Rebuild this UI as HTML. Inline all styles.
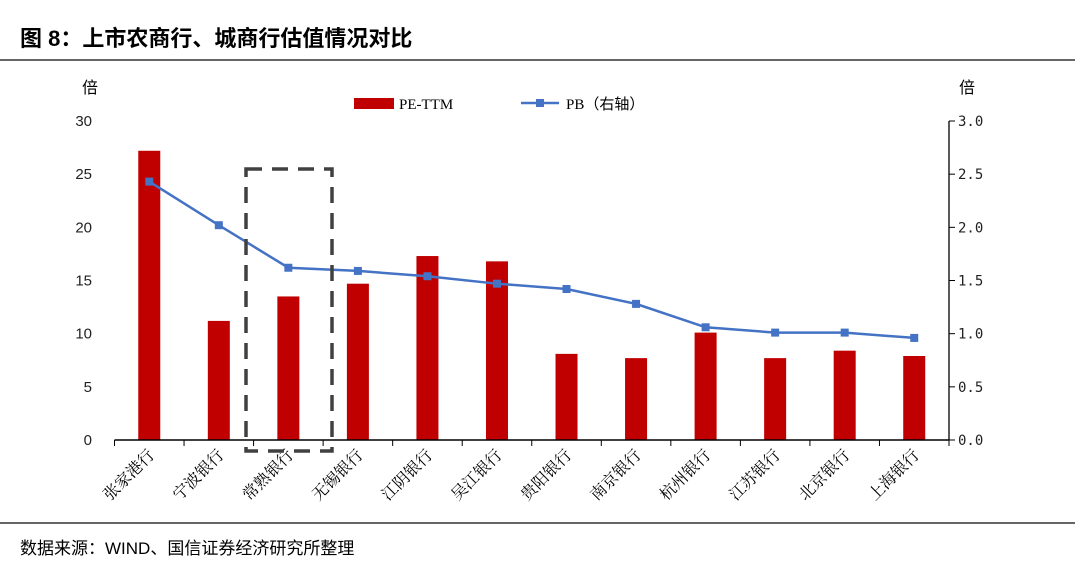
<!DOCTYPE html>
<html><head><meta charset="utf-8"><style>
body{margin:0;background:#fff;}
svg{display:block;font-family:"Liberation Serif","Noto Serif CJK SC",serif;}
</style></head><body>
<svg id="c" width="1075" height="573">
<text x="20" y="46" font-size="22" font-weight="bold" font-family="Liberation Sans,Noto Sans CJK SC,sans-serif">图 8：上市农商行、城商行估值情况对比</text>
<line x1="0" y1="60" x2="1075" y2="60" stroke="#333" stroke-width="1.5"/>
<line x1="0" y1="523" x2="1075" y2="523" stroke="#333" stroke-width="1.5"/>
<text x="20" y="554" font-size="17" font-family="Liberation Sans,Noto Sans CJK SC,sans-serif">数据来源：WIND、国信证券经济研究所整理</text>
<text x="82" y="93" font-size="16" font-family="Liberation Sans,Noto Sans CJK SC,sans-serif">倍</text>
<text x="959" y="93" font-size="16" font-family="Liberation Sans,Noto Sans CJK SC,sans-serif">倍</text>
<rect x="354" y="98" width="40" height="11" fill="#c00000"/>
<text x="399" y="109" font-size="15">PE-TTM</text>
<line x1="521" y1="103" x2="559" y2="103" stroke="#4472c4" stroke-width="2.5"/>
<rect x="536" y="99" width="8" height="8" fill="#4472c4"/>
<text x="566" y="109" font-size="15" font-family="Liberation Serif,Noto Sans CJK SC,serif">PB（右轴）</text>
<g id="g"></g>
<rect x="246" y="169" width="86" height="282" fill="none" stroke="#404040" stroke-width="3.5" stroke-dasharray="16,10"/>
</svg>
<script>
const categories=["张家港行","宁波银行","常熟银行","无锡银行","江阴银行","吴江银行","贵阳银行","南京银行","杭州银行","江苏银行","北京银行","上海银行"];
const peValues=[27.2,11.2,13.5,14.7,17.3,16.8,8.1,7.7,10.1,7.7,8.4,7.9];
const pbValues=[2.43,2.02,1.62,1.59,1.54,1.47,1.42,1.28,1.06,1.01,1.01,0.96];
const leftTicks=[0,5,10,15,20,25,30];
const rightTicks=["0.0","0.5","1.0","1.5","2.0","2.5","3.0"];
const NS="http://www.w3.org/2000/svg",g=document.getElementById('g');
const x0=114.5,x1=949,y0=440,yTop=121;
const step=(x1-x0)/categories.length;
const xc=i=>x0+step*(i+0.5);
const yL=v=>y0-(v/30)*(y0-yTop);
const yR=v=>y0-(v/3)*(y0-yTop);
function el(t,a,txt){const e=document.createElementNS(NS,t);for(const k in a)e.setAttribute(k,a[k]);if(txt!==undefined)e.textContent=txt;g.appendChild(e);return e;}
leftTicks.forEach(v=>{const e=el('text',{x:92,y:yL(v)+5,'text-anchor':'end','font-size':15,'font-family':'Liberation Sans,sans-serif',fill:'#222'},v);
});
rightTicks.forEach(v=>{const e=el('text',{x:958,y:yR(+v)+5,'font-size':14,'font-family':'DejaVu Sans Mono,monospace',fill:'#222'},v);

const t=el('line',{x1:949,x2:955,y1:yR(+v),y2:yR(+v),stroke:'#000'});});
const ra=el('line',{x1:949,x2:949,y1:yTop,y2:y0,stroke:'#000','stroke-width':1.3});

peValues.forEach((v,i)=>{const b=el('rect',{x:xc(i)-11,y:yL(v),width:22,height:y0-yL(v),fill:'#c00000'});
});
const xa=el('line',{x1:x0,x2:x1,y1:y0,y2:y0,stroke:'#000','stroke-width':1.5});

for(let i=0;i<=categories.length;i++){const t=el('line',{x1:x0+step*i,x2:x0+step*i,y1:y0,y2:y0+6,stroke:'#000'});
}
const pl=el('polyline',{points:pbValues.map((v,i)=>xc(i)+','+yR(v)).join(' '),fill:'none',stroke:'#4472c4','stroke-width':2.5});

pbValues.forEach((v,i)=>{const m=el('rect',{x:xc(i)-4,y:yR(v)-4,width:8,height:8,fill:'#4472c4'});
});
categories.forEach((c,i)=>{const x=xc(i)+6,y=456;const t=el('text',{x:x,y:y,'text-anchor':'end','font-size':16,'font-family':'Liberation Serif,Noto Serif CJK SC,serif',transform:`rotate(-45 ${x} ${y})`},c);
});
</script>
</body></html>
